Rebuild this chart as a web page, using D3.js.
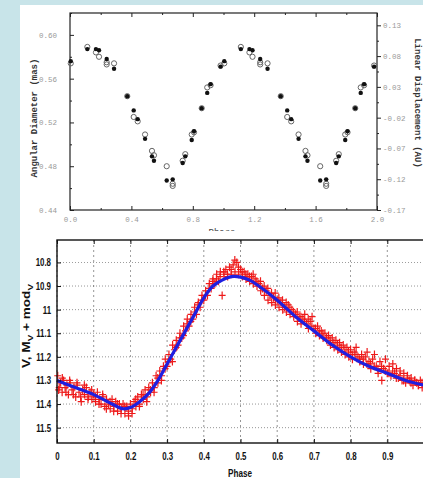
<!DOCTYPE html>
<html>
<head>
<meta charset="utf-8">
<script src="https://cdn.jsdelivr.net/npm/d3@7"></script>
<style>
  html, body { margin: 0; padding: 0; background: #c8e4e9; }
  svg { display: block; }
</style>
</head>
<body>
<svg id="chart" width="423" height="478"></svg>
<script>
// ---------- Top panel data (phase within one cycle, shown twice) ----------
const diamPhase  = [0.005, 0.113, 0.169, 0.189, 0.239, 0.287, 0.373, 0.415, 0.441, 0.489, 0.534, 0.547, 0.630, 0.669, 0.734, 0.751, 0.793, 0.808, 0.858, 0.894, 0.916, 0.981];
const diamFilled = [0.576, 0.587, 0.587, 0.586, 0.578, 0.569, 0.544, 0.531, 0.523, 0.505, 0.489, 0.485, 0.467, 0.468, 0.483, 0.489, 0.504, 0.512, 0.533, 0.547, 0.555, 0.571];
const diamOpen   = [0.574, 0.589, 0.584, 0.580, 0.575, 0.574, 0.544, 0.525, 0.521, 0.509, 0.494, 0.490, 0.480, 0.464, 0.485, 0.491, 0.509, 0.511, 0.533, 0.552, 0.554, 0.572];
const diamOpenExtra = [[0.669, 0.462], [0.239, 0.573]];
const topXTicks   = [0, 0.4, 0.8, 1.2, 1.6, 2.0];
const topXMinor   = [0.2, 0.6, 1.0, 1.4, 1.8];
const topLTicks   = [0.44, 0.48, 0.52, 0.56, 0.60];
const topLMinor   = [0.46, 0.50, 0.54, 0.58, 0.62];
const topRTicks   = [-0.17, -0.12, -0.07, -0.02, 0.03, 0.08, 0.13];
const topRMinor   = [-0.145, -0.095, -0.045, 0.005, 0.055, 0.105];

// ---------- Bottom panel data ----------
const lcTicksX = [0, 0.1, 0.2, 0.3, 0.4, 0.5, 0.6, 0.7, 0.8, 0.9, 1];
const lcTicksY = [10.8, 10.9, 11, 11.1, 11.2, 11.3, 11.4, 11.5];
const fitPhase = [0, 0.05, 0.1, 0.15, 0.18, 0.2, 0.225, 0.25, 0.275, 0.3, 0.325, 0.35, 0.375, 0.4, 0.425, 0.45, 0.475, 0.5, 0.525, 0.55, 0.6, 0.65, 0.7, 0.75, 0.8, 0.85, 0.9, 0.95, 1.0];
const fitMag   = [11.30, 11.33, 11.36, 11.40, 11.42, 11.415, 11.39, 11.355, 11.30, 11.23, 11.16, 11.09, 11.02, 10.95, 10.90, 10.875, 10.86, 10.862, 10.875, 10.90, 10.96, 11.03, 11.09, 11.15, 11.20, 11.24, 11.27, 11.30, 11.32];
const obsPhase = [0.002,0.006,0.010,0.014,0.018,0.022,0.027,0.031,0.036,0.041,0.046,0.051,0.055,0.060,0.066,0.070,0.075,0.080,0.085,0.090,0.095,0.100,0.105,0.110,0.115,0.120,0.125,0.130,0.135,0.140,0.145,0.150,0.155,0.160,0.165,0.170,0.175,0.180,0.185,0.190,0.195,0.200,0.205,0.210,0.215,0.220,0.225,0.230,0.235,0.240,0.245,0.250,0.255,0.260,0.265,0.270,0.275,0.280,0.285,0.290,0.295,0.300,0.305,0.310,0.315,0.320,0.325,0.330,0.335,0.340,0.345,0.350,0.355,0.360,0.365,0.370,0.375,0.380,0.385,0.390,0.395,0.400,0.405,0.410,0.415,0.420,0.425,0.430,0.435,0.440,0.445,0.450,0.455,0.460,0.465,0.470,0.475,0.480,0.485,0.490,0.495,0.500,0.505,0.510,0.515,0.520,0.525,0.530,0.535,0.540,0.545,0.550,0.555,0.560,0.565,0.570,0.575,0.580,0.585,0.590,0.595,0.600,0.605,0.610,0.615,0.620,0.625,0.630,0.635,0.640,0.645,0.650,0.655,0.660,0.665,0.670,0.675,0.680,0.685,0.690,0.695,0.700,0.705,0.710,0.715,0.720,0.725,0.730,0.735,0.740,0.745,0.750,0.755,0.760,0.765,0.770,0.775,0.780,0.785,0.790,0.795,0.800,0.805,0.810,0.815,0.820,0.825,0.830,0.835,0.840,0.845,0.850,0.855,0.860,0.865,0.870,0.875,0.880,0.885,0.890,0.895,0.900,0.905,0.910,0.915,0.920,0.925,0.930,0.935,0.940,0.945,0.950,0.955,0.960,0.965,0.970,0.975,0.980,0.985,0.990,0.995];
const obsMag   = [11.28,11.33,11.31,11.35,11.30,11.33,11.32,11.36,11.31,11.34,11.33,11.37,11.32,11.35,11.39,11.34,11.36,11.33,11.37,11.35,11.38,11.36,11.39,11.35,11.38,11.40,11.37,11.41,11.38,11.40,11.42,11.38,11.41,11.39,11.43,11.40,11.42,11.40,11.44,11.41,11.45,11.40,11.42,11.39,11.41,11.37,11.40,11.36,11.38,11.34,11.37,11.33,11.35,11.31,11.33,11.28,11.31,11.26,11.28,11.24,11.21,11.24,11.19,11.21,11.15,11.17,11.13,11.15,11.10,11.12,11.07,11.09,11.04,11.07,11.02,11.04,10.99,11.02,10.97,10.99,10.94,10.96,10.92,10.94,10.89,10.91,10.87,10.89,10.85,10.88,10.84,10.94,10.85,10.83,10.86,10.82,10.85,10.81,10.84,10.80,10.85,10.83,10.86,10.84,10.87,10.85,10.88,10.86,10.89,10.87,10.90,10.89,10.92,10.91,10.94,10.92,10.96,10.94,10.97,10.95,10.98,10.96,10.99,10.97,11.00,10.99,11.01,10.98,11.02,11.00,11.03,11.02,11.05,11.03,11.06,11.04,11.02,11.06,11.08,11.05,11.03,11.08,11.10,11.07,11.11,11.09,11.12,11.10,11.13,11.11,11.15,11.12,11.16,11.13,11.17,11.14,11.18,11.15,11.19,11.16,11.20,11.17,11.21,11.18,11.16,11.20,11.22,11.19,11.23,11.20,11.18,11.22,11.25,11.21,11.19,11.24,11.27,11.22,11.30,11.25,11.21,11.27,11.24,11.28,11.23,11.27,11.25,11.29,11.26,11.30,11.27,11.31,11.28,11.30,11.29,11.32,11.30,11.31,11.32,11.30,11.33];
const obsPhase2 = [0.0045,0.0145,0.0245,0.0345,0.0445,0.0545,0.0645,0.0745,0.0845,0.0945,0.1045,0.1145,0.1245,0.1345,0.1445,0.1545,0.1645,0.1745,0.1845,0.1945,0.2045,0.2145,0.2245,0.2345,0.2445,0.2545,0.2645,0.2745,0.2845,0.2945,0.3045,0.3145,0.3245,0.3345,0.3445,0.3545,0.3645,0.3745,0.3845,0.3945,0.4045,0.4145,0.4245,0.4345,0.4445,0.4545,0.4645,0.4745,0.4845,0.4945,0.5045,0.5145,0.5245,0.5345,0.5445,0.5545,0.5645,0.5745,0.5845,0.5945,0.6045,0.6145,0.6245,0.6345,0.6445,0.6545,0.6645,0.6745,0.6845,0.6945,0.7045,0.7145,0.7245,0.7345,0.7445,0.7545,0.7645,0.7745,0.7845,0.7945,0.8045,0.8145,0.8245,0.8345,0.8445,0.8545,0.8645,0.8745,0.8845,0.8945,0.9045,0.9145,0.9245,0.9345,0.9445,0.9545,0.9645,0.9745,0.9845,0.9945];
const obsMag2   = [11.34,11.29,11.35,11.30,11.36,11.31,11.37,11.32,11.38,11.34,11.37,11.40,11.36,11.42,11.39,11.43,11.40,11.44,11.41,11.43,11.44,11.38,11.41,11.36,11.39,11.34,11.35,11.29,11.30,11.25,11.22,11.22,11.16,11.12,11.11,11.06,11.05,11.01,10.98,10.96,10.94,10.91,10.88,10.87,10.86,10.84,10.85,10.83,10.79,10.82,10.84,10.85,10.86,10.85,10.88,10.88,10.90,10.91,10.93,10.93,10.95,10.96,10.97,10.99,11.01,11.01,11.03,11.05,11.04,11.07,11.08,11.09,11.10,11.12,11.13,11.14,11.15,11.16,11.17,11.18,11.19,11.19,11.21,11.21,11.23,11.23,11.24,11.25,11.24,11.26,11.27,11.26,11.29,11.28,11.30,11.29,11.31,11.30,11.32,11.31];

// ---------- Drawing ----------
const svg = d3.select("#chart");
svg.append("rect").attr("x", 0).attr("y", 0).attr("width", 423).attr("height", 478).attr("fill", "#c8e4e9");
svg.append("rect").attr("x", 20).attr("y", 5).attr("width", 403).attr("height", 473).attr("fill", "#ffffff");

const mono = "'Liberation Mono', 'DejaVu Sans Mono', monospace";
const sans = "'Liberation Sans', Arial, sans-serif";

// ===== Top panel =====
const xT = d3.scaleLinear().domain([0, 2]).range([70, 377]);
const yL = d3.scaleLinear().domain([0.44, 0.62]).range([210, 13]);
const yR = d3.scaleLinear().domain([-0.17, 0.15]).range([210, 13]);

const topG = svg.append("g");
function styleAxis(g, color) {
  g.select(".domain").remove();
  g.selectAll(".tick line").attr("stroke", "#222").attr("stroke-width", 1);
  g.selectAll(".tick text").attr("fill", color).attr("font-family", mono).attr("font-size", 7.5);
}
topG.append("g").attr("transform", "translate(0,210)")
  .call(d3.axisBottom(xT).tickValues(topXTicks).tickFormat(d => d.toFixed(1)).tickSizeInner(-4).tickSizeOuter(0).tickPadding(7))
  .call(g => styleAxis(g, "#999"));
topG.append("g").attr("transform", "translate(0,210)")
  .call(d3.axisBottom(xT).tickValues(topXMinor).tickFormat("").tickSizeInner(-2).tickSizeOuter(0))
  .call(g => styleAxis(g, "#999"));
topG.append("g").attr("transform", "translate(0,13)")
  .call(d3.axisTop(xT).tickValues(topXTicks).tickFormat("").tickSizeInner(-4).tickSizeOuter(0))
  .call(g => styleAxis(g, "#999"));
topG.append("g").attr("transform", "translate(0,13)")
  .call(d3.axisTop(xT).tickValues(topXMinor).tickFormat("").tickSizeInner(-2).tickSizeOuter(0))
  .call(g => styleAxis(g, "#999"));
topG.append("g").attr("transform", "translate(70,0)")
  .call(d3.axisLeft(yL).tickValues(topLTicks).tickFormat(d => d.toFixed(2)).tickSizeInner(-4).tickSizeOuter(0).tickPadding(13))
  .call(g => styleAxis(g, "#999"));
topG.append("g").attr("transform", "translate(70,0)")
  .call(d3.axisLeft(yL).tickValues(topLMinor).tickFormat("").tickSizeInner(-2).tickSizeOuter(0))
  .call(g => styleAxis(g, "#999"));
topG.append("g").attr("transform", "translate(377,0)")
  .call(d3.axisRight(yR).tickValues(topRTicks).tickFormat(d => d.toFixed(2)).tickSizeInner(4).tickSizeOuter(0).tickPadding(2))
  .call(g => styleAxis(g, "#999"));
topG.append("g").attr("transform", "translate(377,0)")
  .call(d3.axisRight(yR).tickValues(topRMinor).tickFormat("").tickSizeInner(2).tickSizeOuter(0))
  .call(g => styleAxis(g, "#999"));
topG.append("rect").attr("x", xT(0)).attr("y", yL(0.62)).attr("width", xT(2) - xT(0)).attr("height", yL(0.44) - yL(0.62))
  .attr("fill", "none").attr("stroke", "#222").attr("stroke-width", 1.2);

const openPts = [], filledPts = [];
diamPhase.forEach((p, i) => {
  [0, 1].forEach(c => {
    const ph = p + c;
    if (ph <= 2) {
      openPts.push([ph, diamOpen[i]]);
      filledPts.push([ph, diamFilled[i]]);
    }
  });
});
diamOpenExtra.forEach(([p, v]) => { openPts.push([p, v]); if (p + 1 <= 2) openPts.push([p + 1, v]); });

topG.append("g").selectAll("circle").data(openPts).join("circle")
  .attr("cx", d => xT(d[0])).attr("cy", d => yL(d[1])).attr("r", 2.6)
  .attr("fill", "none").attr("stroke", "#666").attr("stroke-width", 1);
topG.append("g").selectAll("circle").data(filledPts).join("circle")
  .attr("cx", d => xT(d[0])).attr("cy", d => yL(d[1])).attr("r", 2.2)
  .attr("fill", "#111");

topG.append("text").attr("transform", "translate(37,118) rotate(-90)")
  .attr("text-anchor", "middle").attr("font-family", mono).attr("font-size", 9)
  .attr("font-weight", "bold").attr("fill", "#333").text("Angular Diameter (mas)");
topG.append("text").attr("transform", "translate(415,103) rotate(90)")
  .attr("text-anchor", "middle").attr("font-family", mono).attr("font-size", 9)
  .attr("font-weight", "bold").attr("fill", "#333").text("Linear Displacement (AU)");
topG.append("text").attr("x", 222).attr("y", 235)
  .attr("text-anchor", "middle").attr("font-family", mono).attr("font-size", 9)
  .attr("fill", "#444").text("Phase");

// ===== Bottom panel =====
svg.append("rect").attr("x", 20).attr("y", 231).attr("width", 403).attr("height", 247).attr("fill", "#ffffff");

const xB = d3.scaleLinear().domain([0, 1]).range([57, 424]);
const yB = d3.scaleLinear().domain([10.705, 11.565]).range([240, 443]);
const bot = svg.append("g");

bot.append("g").selectAll("line").data(lcTicksX).join("line")
  .attr("x1", d => xB(d)).attr("x2", d => xB(d)).attr("y1", 240).attr("y2", 443)
  .attr("stroke", "#444").attr("stroke-width", 0.8).attr("stroke-dasharray", "2,3").attr("opacity", 0.7);
bot.append("g").selectAll("line").data(lcTicksY).join("line")
  .attr("x1", 57).attr("x2", 424).attr("y1", d => yB(d)).attr("y2", d => yB(d))
  .attr("stroke", "#444").attr("stroke-width", 0.8).attr("stroke-dasharray", "1,2").attr("opacity", 0.7);

const plus = "M-3.5,0H3.5M0,-4V4";
const obsAll = obsPhase.map((p, i) => [p, obsMag[i]]).concat(obsPhase2.map((p, i) => [p, obsMag2[i]]));
bot.append("g").selectAll("path").data(obsAll).join("path")
  .attr("transform", d => `translate(${xB(d[0])},${yB(d[1])})`)
  .attr("d", plus).attr("stroke", "#ee1a1a").attr("stroke-width", 1.2).attr("fill", "none");

const line = d3.line().x(d => xB(d[0])).y(d => yB(d[1])).curve(d3.curveCatmullRom.alpha(0.5));
bot.append("path").datum(fitPhase.map((p, i) => [p, fitMag[i]]))
  .attr("d", line).attr("fill", "none").attr("stroke", "#1f1fe0").attr("stroke-width", 3.2);

const sx = 0.75;
function styleB(g) {
  g.select(".domain").remove();
  g.selectAll(".tick line").attr("stroke", "#111").attr("stroke-width", 1);
  g.selectAll(".tick text").attr("fill", "#111").attr("font-family", sans)
    .attr("font-size", 10.5).attr("font-weight", "bold")
    .attr("x", function() { return (+d3.select(this).attr("x") || 0) / sx; })
    .attr("transform", `scale(${sx},1)`);
}
bot.append("g").attr("transform", "translate(0,443)")
  .call(d3.axisBottom(xB).tickValues(lcTicksX).tickFormat(d => d < 1 ? String(+d.toFixed(1)) : "").tickSizeInner(-4).tickSizeOuter(0).tickPadding(10))
  .call(styleB);
bot.append("g").attr("transform", "translate(0,240)")
  .call(d3.axisTop(xB).tickValues(lcTicksX).tickFormat("").tickSizeInner(-4).tickSizeOuter(0))
  .call(styleB);
bot.append("g").attr("transform", "translate(57,0)")
  .call(d3.axisLeft(yB).tickValues(lcTicksY).tickFormat(d => String(+d.toFixed(1))).tickSizeInner(-4).tickSizeOuter(0).tickPadding(6))
  .call(styleB);

bot.append("rect").attr("x", 57).attr("y", 240).attr("width", 367).attr("height", 203)
  .attr("fill", "none").attr("stroke", "#111").attr("stroke-width", 1.4);

const yl = bot.append("text").attr("transform", "translate(30,326) rotate(-90)")
  .attr("text-anchor", "middle").attr("font-family", sans).attr("font-size", 11)
  .attr("font-weight", "bold").attr("fill", "#111")
  .attr("textLength", 84).attr("lengthAdjust", "spacingAndGlyphs");
yl.append("tspan").text("V, M");
yl.append("tspan").attr("font-size", 8).attr("dy", 2.5).text("V");
yl.append("tspan").attr("dy", -2.5).text(" + mod");
yl.append("tspan").attr("font-size", 8).attr("dy", 2.5).text("V");

bot.append("text").attr("x", 240).attr("y", 477).attr("text-anchor", "middle")
  .attr("font-family", sans).attr("font-size", 10).attr("font-weight", "bold")
  .attr("textLength", 24).attr("lengthAdjust", "spacingAndGlyphs")
  .attr("fill", "#111").text("Phase");
</script>
</body>
</html>
